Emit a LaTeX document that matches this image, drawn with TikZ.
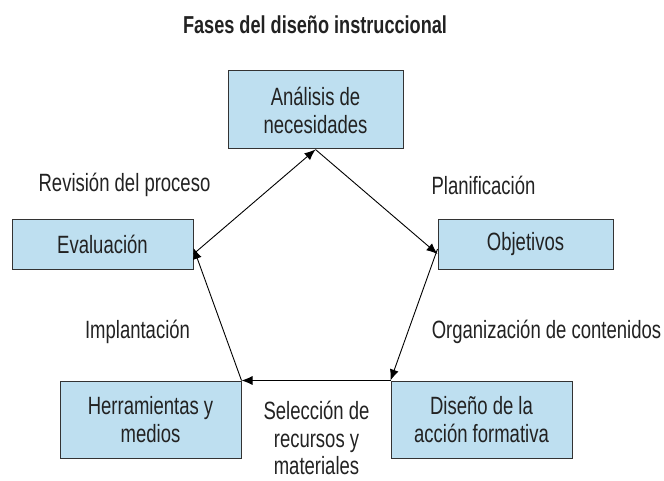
\documentclass[tikz,border=0pt]{standalone}
\usepackage{fontspec}
\setmainfont{Liberation Sans}[FakeStretch=0.74]
\usetikzlibrary{arrows.meta}
\definecolor{boxfill}{HTML}{BEDFF0}
\definecolor{boxline}{HTML}{333333}
\definecolor{txt}{HTML}{222222}
\begin{document}
\begin{tikzpicture}[x=1pt,y=-1pt,
  phase/.style={draw=boxline,fill=boxfill,line width=1pt,align=center,text=txt,font=\fontsize{25}{28}\selectfont,inner sep=0pt},
  lbl/.style={text=txt,font=\fontsize{25}{27.5}\selectfont,align=center,inner sep=0pt},
  conn/.style={draw=black,line width=0.9pt,-{Latex[length=11pt,width=9pt]}}]
\useasboundingbox (0,0) rectangle (664,481);
\node[font=\bfseries\fontsize{24.5}{28}\selectfont,text=txt] (title) at (315,25) {Fases del diseño instruccional};
\node[phase,minimum width=175pt,minimum height=78pt] (ana) at (315.5,110) {Análisis de\\necesidades};
\node[phase,minimum width=181pt,minimum height=49pt] (eva) at (102.5,244.5) {Evaluación};
\node[phase,minimum width=175pt,minimum height=49pt] (obj) at (525.5,244.5) {Objetivos};
\node[phase,minimum width=181pt,minimum height=77pt] (her) at (150.5,419.5) {Herramientas y\\medios};
\node[phase,minimum width=181pt,minimum height=77pt] (dis) at (481.5,419.5) {Diseño de la\\acción formativa};
\coordinate (evaA) at ([yshift=-9.5pt]eva.east);
\coordinate (evaB) at ([yshift=-3.5pt]eva.east);
\coordinate (objA) at ([yshift=-9.5pt]obj.west);
\coordinate (objB) at ([yshift=-4.5pt]obj.west);
\draw[conn] (evaA) -- (ana.south);
\draw[conn] (ana.south) -- (objA);
\draw[conn] (objB) -- (dis.north west);
\draw[conn] (dis.north west) -- (her.north east);
\draw[conn] (her.north east) -- (evaB);
\node[lbl] (rev) at (124.5,185) {Revisión del proceso};
\node[lbl] (pla) at (483.5,185) {Planificación};
\node[lbl] (imp) at (137.5,332) {Implantación};
\node[lbl] (org) at (546.5,332) {Organización de contenidos};
\node[lbl] (sel) at (316.5,438) {Selección de\\recursos y\\materiales};
\end{tikzpicture}
\end{document}
